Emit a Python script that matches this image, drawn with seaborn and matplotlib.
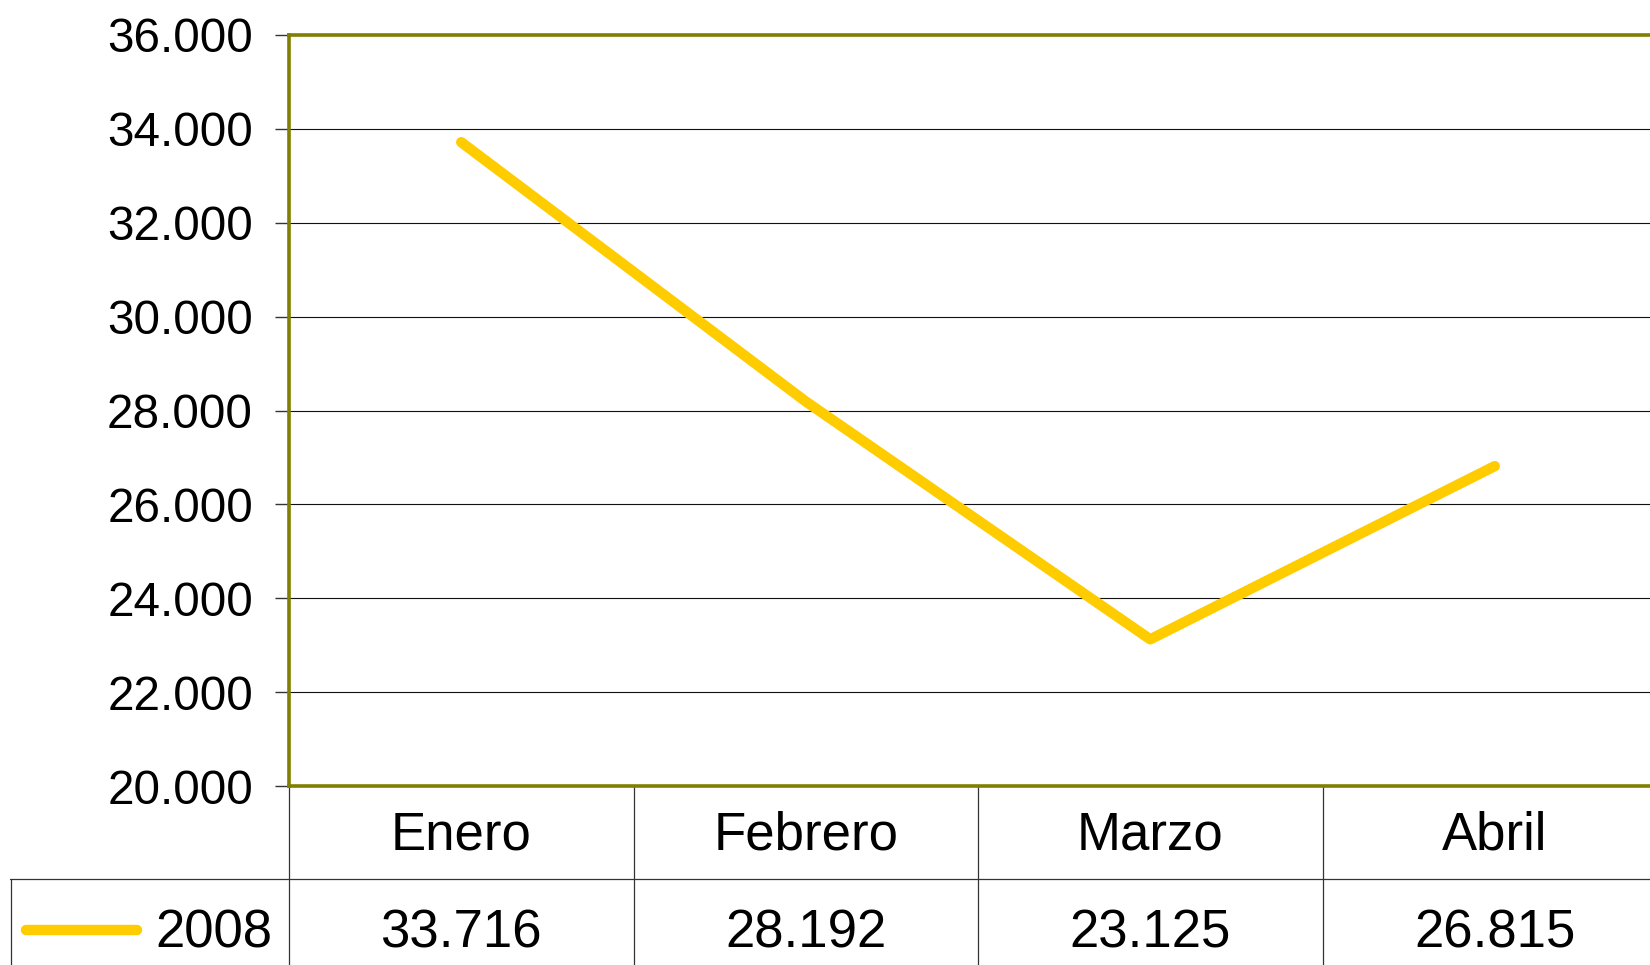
import pandas as pd
import matplotlib.pyplot as plt
import matplotlib.transforms as mtransforms
import seaborn as sns

# ==========================================
# DATA
# ==========================================

months = ['Enero', 'Febrero', 'Marzo', 'Abril']
values_2008 = [33716, 28192, 23125, 26815]
value_labels = ['33.716', '28.192', '23.125', '26.815']
series_name = '2008'
y_ticks = [20000, 22000, 24000, 26000, 28000, 30000, 32000, 34000, 36000]
y_tick_labels = ['20.000', '22.000', '24.000', '26.000', '28.000',
                 '30.000', '32.000', '34.000', '36.000']

df = pd.DataFrame({'Mes': months, 'Valor': values_2008})
df['pos'] = range(len(months))

# ==========================================
# STYLE
# ==========================================

sns.set_style("white")
plt.rcParams['font.family'] = ['Liberation Sans', 'DejaVu Sans']

line_color = '#FFCC00'
border_color = '#808000'
W, H = 1650, 965

fig = plt.figure(figsize=(16.5, 9.65), dpi=100)
ax = fig.add_axes([289 / W, 1 - 786 / H, 1378 / W, (786 - 35) / H])

sns.lineplot(
    data=df,
    x='pos',
    y='Valor',
    color=line_color,
    linewidth=7.5,
    ax=ax
)
ax.lines[0].set_solid_capstyle('round')
ax.lines[0].set_solid_joinstyle('round')

ax.set_xlim(-0.5, len(months) - 0.5)
ax.set_ylim(20000, 36000)
ax.set_yticks(y_ticks)
ax.set_yticklabels(y_tick_labels, fontsize=34.3)
ax.set_xticks([])
ax.set_xlabel('')
ax.set_ylabel('')

ax.yaxis.grid(True, color='#111111', linewidth=0.8)
ax.set_axisbelow(True)
ax.tick_params(axis='y', left=True, length=10, width=1, color='#333333',
               pad=16, labelcolor='black')

for side in ['left', 'top', 'bottom', 'right']:
    ax.spines[side].set_color(border_color)
    ax.spines[side].set_linewidth(2.6)

# ==========================================
# DATA TABLE BELOW THE CHART
# ==========================================

# x in data coordinates, y in figure fraction
trans = mtransforms.blended_transform_factory(ax.transData, fig.transFigure)
fig_px = fig.transFigure
grid_kw = dict(color='#333333', linewidth=0.9, clip_on=False)

header_y = 836
data_y = 934

# vertical column lines
for b in [-0.5, 0.5, 1.5, 2.5]:
    ax.plot([b, b], [1 - 786 / H, 0], transform=trans, **grid_kw)

# horizontal line between header and data row
fig.add_artist(plt.Line2D([10 / W, 1], [1 - 879 / H, 1 - 879 / H],
                          transform=fig_px, **grid_kw))
# left edge of data row
fig.add_artist(plt.Line2D([10.5 / W, 10.5 / W], [1 - 879 / H, 0],
                          transform=fig_px, **grid_kw))

for i, (m, v) in enumerate(zip(months, value_labels)):
    ax.text(i, 1 - header_y / H, m, transform=trans, ha='center',
            va='center', fontsize=38, color='black')
    ax.text(i, 1 - data_y / H, v, transform=trans, ha='center',
            va='center', fontsize=38, color='black')

# legend key and series name
fig.add_artist(plt.Line2D([26 / W, 137 / W], [1 - 930 / H, 1 - 930 / H],
                          transform=fig_px, color=line_color, linewidth=7.5,
                          solid_capstyle='round'))
fig.text(272 / W, 1 - data_y / H, series_name, ha='right', va='center',
         fontsize=38, color='black')

plt.savefig("out.png", dpi=100)
